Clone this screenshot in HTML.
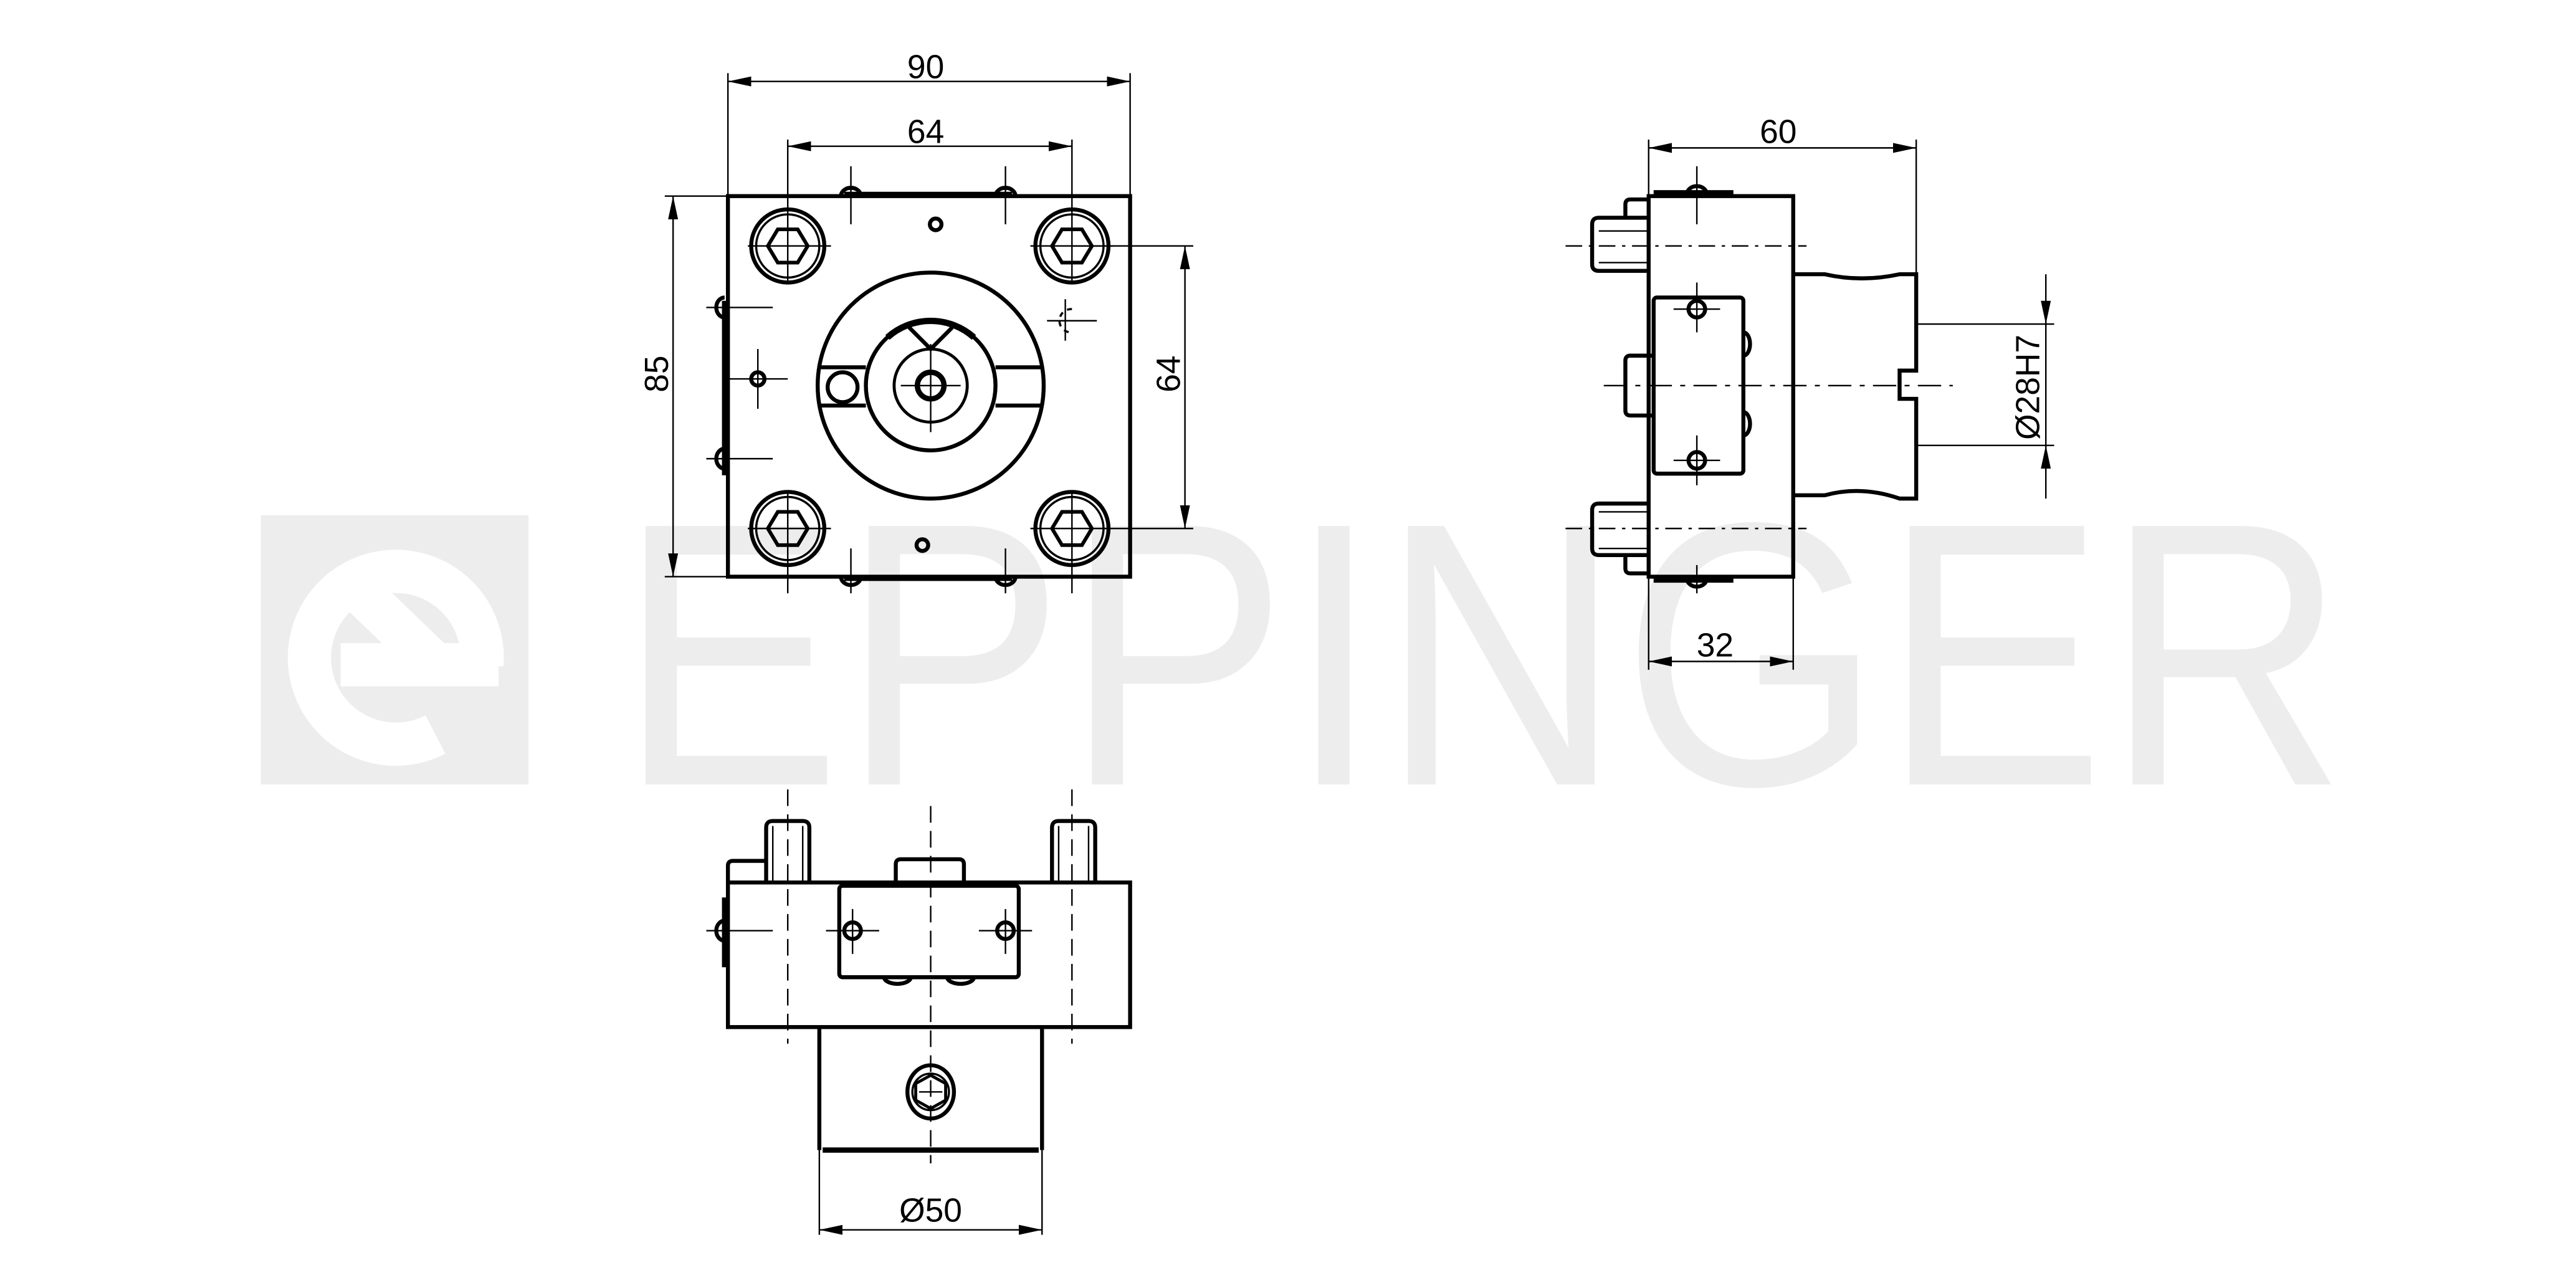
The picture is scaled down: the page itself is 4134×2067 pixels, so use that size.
<!DOCTYPE html>
<html><head><meta charset="utf-8"><style>
html,body{margin:0;padding:0;background:#fff;}
svg{display:block;}
text{font-family:"Liberation Sans",sans-serif;fill:#000;}
</style></head><body>
<svg width="4134" height="2067" viewBox="0 0 1550 775" preserveAspectRatio="none" xmlns="http://www.w3.org/2000/svg">
<defs>
<marker id="a" viewBox="0 0 14 6" refX="14" refY="3" markerWidth="14" markerHeight="6" markerUnits="userSpaceOnUse" orient="auto-start-reverse"><path d="M0,0 L14,3 L0,6 z" fill="#000"/></marker>
</defs>
<rect width="1550" height="775" fill="#fff"/>
<g fill="#ededed">
<rect x="157" y="310" width="161" height="162"/>
<text x="372" y="472" font-size="226" textLength="1040" lengthAdjust="spacingAndGlyphs" style="fill:#ededed">EPPINGER</text>
</g>
<g fill="none" stroke="#fff" stroke-width="26">
<path d="M262,442 A52,52 0 1 1 290,400"/>
<path d="M205,400 L300,400"/>
<path d="M205,345 L262,400"/>
</g>

<g fill="none" stroke="#000" stroke-width="0.9">
<g stroke-width="2.4">
<rect x="438" y="118" width="242" height="229"/>
<line x1="508" y1="117" x2="609" y2="117" stroke-width="3.2"/>
<line x1="508" y1="348" x2="609" y2="348" stroke-width="3.2"/>
<line x1="436" y1="181" x2="436" y2="286" stroke-width="3.2"/>
<path d="M506,118 A6,5 0 0 1 518,118"/><path d="M599,118 A6,5 0 0 1 611,118"/>
<path d="M506,347 A6,5 0 0 0 518,347"/><path d="M599,347 A6,5 0 0 0 611,347"/>
<path d="M436,179 A5,6 0 0 0 436,191"/><path d="M436,270 A5,6 0 0 0 436,282"/>
<circle cx="563" cy="135" r="3.5"/><circle cx="555" cy="328" r="3.5"/>
<circle cx="560" cy="232" r="68"/>
<circle cx="560" cy="232" r="39"/>
<path d="M534,203 A39,39 0 0 1 586,203" stroke-width="3.8"/>
<path d="M547,197 L560,210 L573,197"/>
<circle cx="560" cy="232" r="22" stroke-width="1.8"/>
<circle cx="560" cy="232" r="8" stroke-width="3.2"/>
<line x1="493" y1="221" x2="521" y2="221"/><line x1="493" y1="244" x2="521" y2="244"/>
<line x1="599" y1="221" x2="627" y2="221"/><line x1="599" y1="244" x2="627" y2="244"/>
<circle cx="507" cy="233" r="9"/>
<circle cx="456" cy="228" r="4"/>
</g>
<g id="bolt">
<circle cx="474" cy="148" r="22" stroke-width="2.4"/>
<circle cx="474" cy="148" r="19" stroke-width="1.3"/>
<polygon points="462,148 468,138 480,138 486,148 480,158 468,158" stroke-width="2.2"/>
</g>
<use href="#bolt" x="171"/><use href="#bolt" y="170"/><use href="#bolt" x="171" y="170"/>
<line x1="450" y1="148" x2="500" y2="148"/><line x1="620" y1="148" x2="670" y2="148"/>
<line x1="450" y1="318" x2="500" y2="318"/><line x1="620" y1="318" x2="718" y2="318"/>
<line x1="474" y1="84" x2="474" y2="170"/><line x1="474" y1="296" x2="474" y2="357"/>
<line x1="645" y1="84" x2="645" y2="170"/><line x1="645" y1="296" x2="645" y2="357"/>
<line x1="645" y1="148" x2="718" y2="148"/>
<line x1="512" y1="100" x2="512" y2="135"/><line x1="605" y1="100" x2="605" y2="135"/>
<line x1="512" y1="330" x2="512" y2="357"/><line x1="605" y1="330" x2="605" y2="357"/>
<line x1="425" y1="185" x2="465" y2="185"/><line x1="425" y1="276" x2="465" y2="276"/>
<line x1="438" y1="228" x2="474" y2="228"/><line x1="456" y1="210" x2="456" y2="246"/>
<line x1="542" y1="232" x2="578" y2="232"/><line x1="560" y1="207" x2="560" y2="260"/>
<line x1="630" y1="193" x2="660" y2="193"/><line x1="641" y1="180" x2="641" y2="205"/>
<path d="M645,186 A7,7 0 1 0 644,200" stroke-dasharray="3,3" stroke-width="1.3"/>
<line x1="438" y1="44" x2="438" y2="118"/><line x1="680" y1="44" x2="680" y2="118"/>
<line x1="438" y1="49" x2="680" y2="49" marker-start="url(#a)" marker-end="url(#a)"/>
<line x1="474" y1="88" x2="645" y2="88" marker-start="url(#a)" marker-end="url(#a)"/>
<line x1="400" y1="118" x2="438" y2="118"/><line x1="400" y1="347" x2="438" y2="347"/>
<line x1="405" y1="118" x2="405" y2="347" marker-start="url(#a)" marker-end="url(#a)"/>
<line x1="713" y1="148" x2="713" y2="318" marker-start="url(#a)" marker-end="url(#a)"/>

<g stroke-width="2.4">
<rect x="992" y="118" width="87" height="229"/>
<line x1="995" y1="116" x2="1043" y2="116" stroke-width="3.2"/>
<line x1="995" y1="349" x2="1043" y2="349" stroke-width="3.2"/>
<path d="M1015,117 A6,5 0 0 1 1027,117"/><path d="M1015,348 A6,5 0 0 0 1027,348"/>
<path d="M992,131 L962,131 Q958,131 958,135 L958,159 Q958,163 962,163 L992,163"/>
<path d="M992,303 L962,303 Q958,303 958,307 L958,330 Q958,334 962,334 L992,334"/>
<path d="M992,120 L981,120 Q978,120 978,123 L978,131"/>
<path d="M992,345 L981,345 Q978,345 978,342 L978,334"/>
<path d="M994,214 L981,214 Q978,214 978,217 L978,247 Q978,250 981,250 L994,250"/>
<rect x="995" y="179" width="54" height="106" rx="2"/>
<path d="M1049,200 A4,7 0 0 1 1049,214"/><path d="M1049,248 A4,7 0 0 1 1049,262"/>
<circle cx="1021" cy="186" r="5"/><circle cx="1021" cy="277" r="5"/>
<path d="M1079,165 L1098,165 Q1120,170 1143,165 L1153,165 L1153,223 L1143,223 L1143,240 L1153,240 L1153,300 L1143,300 Q1120,292 1098,298 L1079,298"/>
</g>
<line x1="962" y1="139" x2="992" y2="139"/><line x1="962" y1="158" x2="992" y2="158"/>
<line x1="962" y1="308" x2="992" y2="308"/><line x1="962" y1="330" x2="992" y2="330"/>
<line x1="942" y1="148" x2="1087" y2="148" stroke-dasharray="10,4,2,4"/>
<line x1="942" y1="318" x2="1087" y2="318" stroke-dasharray="10,4,2,4"/>
<line x1="965" y1="232" x2="1175" y2="232" stroke-dasharray="14,5,3,5"/>
<line x1="1021" y1="100" x2="1021" y2="135"/><line x1="1021" y1="340" x2="1021" y2="357"/>
<line x1="1021" y1="170" x2="1021" y2="200"/><line x1="1021" y1="262" x2="1021" y2="292"/>
<line x1="1007" y1="186" x2="1035" y2="186"/><line x1="1007" y1="277" x2="1035" y2="277"/>
<line x1="992" y1="84" x2="992" y2="118"/><line x1="1153" y1="84" x2="1153" y2="165"/>
<line x1="992" y1="89" x2="1153" y2="89" marker-start="url(#a)" marker-end="url(#a)"/>
<line x1="1153" y1="195" x2="1236" y2="195"/><line x1="1153" y1="268" x2="1236" y2="268"/>
<line x1="1231" y1="165" x2="1231" y2="195" marker-end="url(#a)"/>
<line x1="1231" y1="300" x2="1231" y2="268" marker-end="url(#a)"/>
<line x1="1231" y1="195" x2="1231" y2="268"/>
<line x1="992" y1="347" x2="992" y2="403"/><line x1="1079" y1="347" x2="1079" y2="403"/>
<line x1="992" y1="398" x2="1079" y2="398" marker-start="url(#a)" marker-end="url(#a)"/>

<g stroke-width="2.4">
<rect x="438" y="531" width="242" height="87"/>
<line x1="436" y1="540" x2="436" y2="582" stroke-width="3.2"/>
<path d="M436,554 A5,6 0 0 0 436,566"/>
<path d="M461,531 L461,498 Q461,494 465,494 L483,494 Q487,494 487,498 L487,531"/>
<path d="M633,531 L633,498 Q633,494 637,494 L655,494 Q659,494 659,498 L659,531"/>
<path d="M438,531 L438,521 Q438,518 441,518 L461,518"/>
<path d="M539,531 L539,520 Q539,517 542,517 L577,517 Q580,517 580,520 L580,531"/>
<rect x="505" y="533" width="108" height="55" rx="2"/>
<path d="M532,588 A8,4 0 0 0 548,588"/><path d="M570,588 A8,4 0 0 0 586,588"/>
<circle cx="513" cy="560" r="5"/><circle cx="605" cy="560" r="5"/>
<path d="M493,618 L493,692 M627,618 L627,692"/>
<line x1="495" y1="692" x2="625" y2="692" stroke-width="3.2"/>
<ellipse cx="560" cy="657" rx="14" ry="16"/>
<circle cx="560" cy="657" r="11" stroke-width="1.3"/>
<polygon points="560,647 569,652 569,662 560,667 551,662 551,652" stroke-width="1.8"/>
</g>
<line x1="465" y1="497" x2="465" y2="531"/><line x1="483" y1="497" x2="483" y2="531"/>
<line x1="637" y1="497" x2="637" y2="531"/><line x1="655" y1="497" x2="655" y2="531"/>
<line x1="474" y1="475" x2="474" y2="628" stroke-dasharray="10,5"/>
<line x1="645" y1="475" x2="645" y2="628" stroke-dasharray="10,5"/>
<line x1="560" y1="485" x2="560" y2="700" stroke-dasharray="10,5"/>
<line x1="425" y1="560" x2="465" y2="560"/>
<line x1="497" y1="560" x2="529" y2="560"/><line x1="513" y1="547" x2="513" y2="574"/>
<line x1="589" y1="560" x2="621" y2="560"/><line x1="605" y1="547" x2="605" y2="574"/>
<line x1="553" y1="657" x2="567" y2="657"/>
<line x1="493" y1="692" x2="493" y2="743"/><line x1="627" y1="692" x2="627" y2="743"/>
<line x1="493" y1="740" x2="627" y2="740" marker-start="url(#a)" marker-end="url(#a)"/>
</g>

<g font-size="20">
<text x="557" y="47" text-anchor="middle">90</text>
<text x="557" y="86" text-anchor="middle">64</text>
<text x="1070" y="86" text-anchor="middle">60</text>
<text x="1032" y="395" text-anchor="middle">32</text>
<text x="560" y="735" text-anchor="middle">Ø50</text>
<text transform="translate(402,225) rotate(-90)" text-anchor="middle">85</text>
<text transform="translate(710,225) rotate(-90)" text-anchor="middle">64</text>
<text transform="translate(1227,233) rotate(-90)" text-anchor="middle">Ø28H7</text>
</g>
</svg>
</body></html>
